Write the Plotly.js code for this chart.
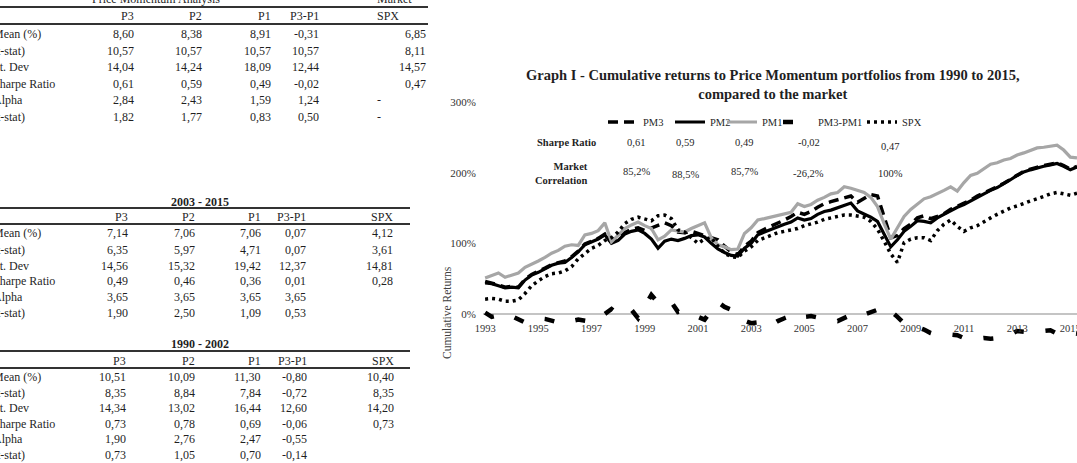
<!DOCTYPE html>
<html><head><meta charset="utf-8">
<script src="https://cdn.plot.ly/plotly-3.0.1.min.js"></script>
<style>html,body{margin:0;padding:0;background:#fff;overflow:hidden}#chart{width:1077px;height:463px}</style>
</head><body><div id="chart"></div>
<script>
const W = 1077, H = 463;
const FONT = 'Liberation Serif';

// ---------- chart data (cumulative returns, %) ----------
const quarters = [
 1993,1993.25,1993.5,1993.75, 1994,1994.25,1994.5,1994.75, 1995,1995.25,1995.5,1995.75,
 1996,1996.25,1996.5,1996.75, 1997,1997.25,1997.5,1997.75, 1998,1998.25,1998.5,1998.75,
 1999,1999.25,1999.5,1999.75, 2000,2000.25,2000.5,2000.75, 2001,2001.25,2001.5,2001.75,
 2002,2002.25,2002.5,2002.75, 2003,2003.25,2003.5,2003.75, 2004,2004.25,2004.5,2004.75,
 2005,2005.25,2005.5,2005.75, 2006,2006.25,2006.5,2006.75, 2007,2007.25,2007.5,2007.75,
 2008,2008.25,2008.5,2008.75, 2009,2009.25,2009.5,2009.75, 2010,2010.25,2010.5,2010.75,
 2011,2011.25,2011.5,2011.75, 2012,2012.25,2012.5,2012.75, 2013,2013.25,2013.5,2013.75,
 2014,2014.25,2014.5,2014.75, 2015,2015.25];

const pm3 = [
 46,44,41,38, 39,38,49,56, 60,65,70,73, 75,81,89,99, 103,107,113,101, 106,115,120,122,
 118,122,126,129, 125,116,115,117, 114,111,108,105, 96,88,84,96, 103,115,120,124,
 129,133,138,144, 141,145,151,156, 159,162,165,167, 158,164,169,167, 139,108,111,121,
 127,136,139,135, 138,142,148,152, 156,161,167,171, 176,180,185,191, 197,202,205,208,
 210,212,214,210, 205,209];

const pm2 = [
 44,43,40,37, 38,37,48,55, 59,64,69,72, 73,80,88,98, 102,106,112,100, 104,113,117,119,
 114,106,93,103, 106,104,107,111, 112,109,100,92, 87,83,82,93, 100,112,116,120,
 124,127,130,136, 133,135,141,145, 147,150,153,157, 146,142,137,131, 112,95,105,117,
 124,132,131,129, 136,141,147,151, 155,160,166,170, 175,179,184,190, 196,201,204,207,
 209,211,213,209, 204,208];

const pm1 = [
 51,55,58,52, 55,58,66,70, 75,80,86,90, 96,98,97,112, 114,118,129,102, 112,121,126,130,
 125,121,105,110, 119,117,116,121, 125,129,108,98, 95,91,92,114, 122,133,135,137,
 140,142,144,156, 152,155,161,165, 170,172,180,178, 175,172,165,152, 128,106,122,138,
 148,155,163,166, 170,175,180,174, 186,196,199,205, 212,214,218,220, 225,228,231,235,
 236,238,239,232, 222,221];

const pm3pm1 = [
 2,-4,-2,1, -3,-7,-12,-8, -6,-7,-10,-12, -8,-10,-8,-10, -11,-5,0,7, -1,3,6,-6,
 10,27,16,20, 17,3,5,-1, -4,-8,5,17, 10,6,-6,-10, -13,-12,-11,-16,
 -10,-6,-2,1, -4,-3,-5,-6, -8,-10,-6,-2, 3,-1,2,6, -1,4,-4,-13,
 -15,-18,-22,-27, -30,-28,-29,-30, -34,-37,-35,-34, -35,-34,-33,-29, -24,-25,-27,-25,
 -24,-23,-28,-30, -27,-28];

const spx = [
 21,22,21,18, 18,20,29,40, 47,53,57,58, 61,67,78,86, 93,97,104,108, 116,128,134,137,
 135,132,139,140, 135,119,116,108, 100,106,108,96, 86,81,80,89, 95,104,108,112,
 115,117,119,121, 125,127,130,134, 136,138,140,140, 139,137,131,120, 103,85,73,101,
 106,108,108,104, 118,127,133,124, 117,122,125,131, 136,141,146,150, 153,157,160,163,
 167,170,172,170, 168,171];

const yearTicks = [1993,1995,1997,1999,2001,2003,2005,2007,2009,2011,2013,2015];
const pctTicks = [0,100,200,300];

const seriesNames = ['PM3','PM2','PM1','PM3-PM1','SPX'];
const sharpeChart = ['0,61','0,59','0,49','-0,02','0,47'];
const corrChart = ['85,2%','88,5%','85,7%','-26,2%','100%'];

// ---------- table data ----------
const rowLabels = ['Mean (%)','(t-stat)','St. Dev','Sharpe Ratio','Alpha','(t-stat)'];
const colHeads = ['P3','P2','P1','P3-P1','SPX'];

const tA_P3 = [8.60,10.57,14.04,0.61,2.84,1.82];
const tA_P2 = [8.38,10.57,14.24,0.59,2.43,1.77];
const tA_P1 = [8.91,10.57,18.09,0.49,1.59,0.83];
const tA_D  = [-0.31,10.57,12.44,-0.02,1.24,0.50];
const tA_SPX= [6.85,8.11,14.57,0.47,'-','-'];

const tB_P3 = [7.14,6.35,14.56,0.49,3.65,1.90];
const tB_P2 = [7.06,5.97,15.32,0.46,3.65,2.50];
const tB_P1 = [7.06,4.71,19.42,0.36,3.65,1.09];
const tB_D  = [0.07,0.07,12.37,0.01,3.65,0.53];
const tB_SPX= [4.12,3.61,14.81,0.28,'',''];

const tC_P3 = [10.51,8.35,14.34,0.73,1.90,0.73];
const tC_P2 = [10.09,8.84,13.02,0.78,2.76,1.05];
const tC_P1 = [11.30,7.84,16.44,0.69,2.47,0.70];
const tC_D  = [-0.80,-0.72,12.60,-0.06,-0.55,-0.14];
const tC_SPX= [10.40,8.35,14.20,0.73,'',''];

// ---------- helpers ----------
const px = x => x / W;
const py = y => 1 - y / H;
const fmt = v => typeof v === 'number' ? v.toFixed(2).replace('.', ',') : v;
const annotations = [];
const shapes = [];
function txt(x, y, text, anchor, opts) {
  opts = opts || {};
  annotations.push({xref:'paper', yref:'paper', x:px(x), y:py(y), text:text,
    xanchor:anchor||'center', yanchor:'middle', showarrow:false, align:opts.align||'center',
    textangle: opts.angle||0,
    font:{family:FONT, size:opts.size||12, color:opts.color||'#1f1f1f'}});
}
function hline(y, x0, x1) {
  shapes.push({type:'line', xref:'paper', yref:'paper', x0:px(x0), x1:px(x1), y0:py(y), y1:py(y),
    line:{color:'#333', width:2}});
}
function table(cfg) {
  const cols = cfg.cols;
  if (cfg.title) txt(200, cfg.titleY, '<b>' + cfg.title + '</b>', 'center');
  hline(cfg.line1, 0, cfg.lineEnd);
  hline(cfg.line2, 0, cfg.lineEnd);
  colHeads.forEach((h, i) => {
    if (i === 4 && cfg.spxHeadLeft) txt(cfg.spxHeadLeft, cfg.headY, h, 'left');
    else txt(cfg.colRight[i], cfg.headY, h, 'right');
  });
  rowLabels.forEach((lab, r) => {
    const y = cfg.rowY[r];
    txt(-9, y, lab, 'left');
    cols.forEach((col, i) => {
      const v = col[r];
      if (v === '') return;
      if (v === '-') txt(cfg.dashX, y, '-', 'left');
      else txt(cfg.colRight[i], y, fmt(v), 'right');
    });
  });
}

// Table A (full period, top cut off)
txt(156, -1, 'Price Momentum Analysis', 'center');
txt(375, -1, 'Market', 'left');
table({cols:[tA_P3,tA_P2,tA_P1,tA_D,tA_SPX], headY:16, line1:7, line2:24, lineEnd:428,
  rowY:[34,51,67,84,100,117], colRight:[136,204,273,321,428], spxHeadLeft:375, dashX:375});
// Table B
table({title:'2003 - 2015', titleY:202, cols:[tB_P3,tB_P2,tB_P1,tB_D,tB_SPX], headY:217, line1:208, line2:224,
  lineEnd:410, rowY:[233,250,266,281,297,313], colRight:[130,197,263,308,395]});
// Table C
table({title:'1990 - 2002', titleY:344, cols:[tC_P3,tC_P2,tC_P1,tC_D,tC_SPX], headY:361, line1:351, line2:368,
  lineEnd:410, rowY:[377,393,408,424,439,455], colRight:[128,197,263,309,396]});

// Chart title and inner stats table
txt(773, 85, '<b>Graph I - Cumulative returns to Price Momentum portfolios from 1990 to 2015,<br>compared to the market</b>', 'center', {size:14.5});
txt(598, 142, '<b>Sharpe Ratio</b>', 'right', {size:10.5, align:'right'});
txt(590, 173, '<b>Market<br>Correlation</b>', 'right', {size:10.5, align:'right'});
const statX = [636,685,744,809,890];
const sharpeY = [142,142,142,142,146];
const corrY = [172,174,172,173,173];
sharpeChart.forEach((s,i)=>txt(statX[i], sharpeY[i], s, 'center', {size:10.5}));
corrChart.forEach((s,i)=>txt(statX[i], corrY[i], s, 'center', {size:10.5}));
txt(447, 313, 'Cumulative Returns', 'center', {size:11.5, angle:-90, color:'#404040'});

// ---------- traces ----------
const styles = [
  {color:'#000', width:3.5, dash:'10px,6px'},
  {color:'#000', width:3.2, dash:'solid'},
  {color:'#a6a6a6', width:3.2, dash:'solid'},
  {color:'#000', width:4.5, dash:'10px,22px'},
  {color:'#000', width:3.5, dash:'3px,4px'}
];
const values = [pm3, pm2, pm1, pm3pm1, spx];
const legendIds = ['legend','legend2','legend3','legend4','legend5'];
const legendX = [603,670,722,778,862];
const traces = values.map((v,i)=>({
  type:'scatter', mode:'lines', x:quarters, y:v, name:seriesNames[i],
  line:styles[i], legend:legendIds[i], hoverinfo:'skip'
}));

const layout = {
  width:W, height:H, margin:{l:0,r:0,t:0,b:0,pad:0},
  paper_bgcolor:'#fff', plot_bgcolor:'rgba(0,0,0,0)',
  showlegend:true,
  xaxis:{type:'linear', domain:[px(483),1], range:[1992.92,2015.25], anchor:'free', position:py(314),
    tickvals:yearTicks, ticktext:yearTicks.map(String), showgrid:false, zeroline:false, showline:false,
    ticks:'', ticklabelstandoff:6, ticklabeloverflow:'allow',
    tickfont:{family:FONT, size:10.5, color:'#333'}},
  yaxis:{domain:[0,1], range:[(314-463)/0.70667, 314/0.70667], tickvals:pctTicks,
    ticktext:pctTicks.map(v=>v+'%'), showgrid:false, zeroline:true, zerolinecolor:'#c4c4c4', zerolinewidth:1.5,
    showline:false, ticks:'', ticklabelstandoff:6, tickfont:{family:FONT, size:11, color:'#333'}},
  annotations, shapes
};
legendIds.forEach((id,i)=>{
  layout[id] = {orientation:'h', x:px(legendX[i]), xanchor:'left', y:py(122), yanchor:'middle',
    bgcolor:'rgba(0,0,0,0)', borderwidth:0, font:{family:FONT, size:10.5, color:'#1f1f1f'}};
});

Plotly.newPlot('chart', traces, layout, {staticPlot:true, displayModeBar:false});
</script></body></html>
